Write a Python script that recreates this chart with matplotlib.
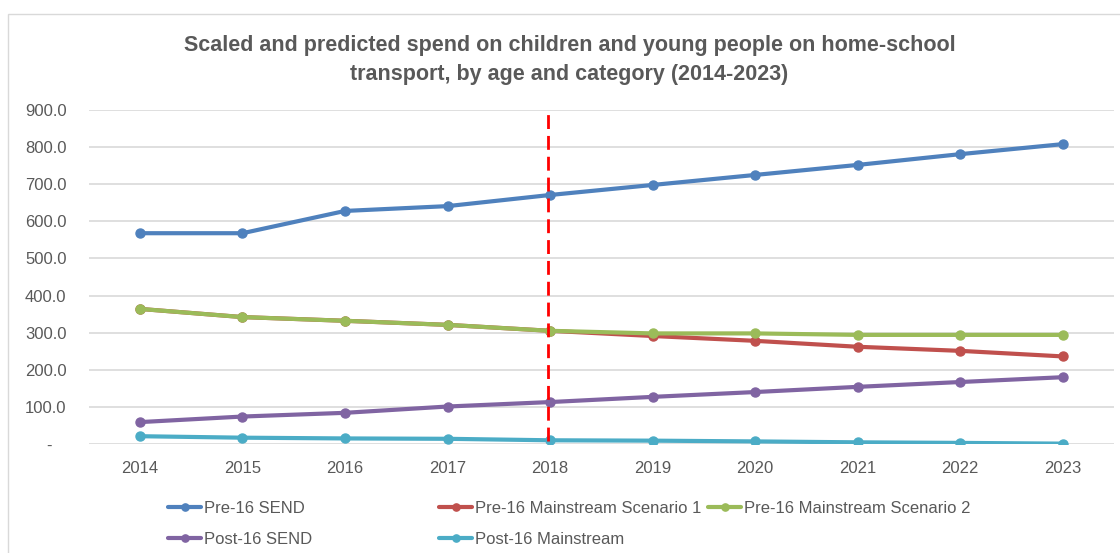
import matplotlib
matplotlib.use("Agg")
import matplotlib.pyplot as plt
from matplotlib.patches import Rectangle

years = [2014, 2015, 2016, 2017, 2018, 2019, 2020, 2021, 2022, 2023]
pre16_send = [568, 568, 628, 641, 671, 698, 725, 752, 781, 808]
pre16_main_s1 = [364, 342, 332, 321, 305, 291, 278, 262, 251, 236]
pre16_main_s2 = [364, 342, 332, 321, 305, 298, 298, 294, 294, 294]
post16_send = [59, 74, 84, 101, 113, 127, 140, 154, 167, 180]
post16_main = [21, 17, 15, 14, 10, 9, 7, 4.5, 3, 1]
forecast_start = 2018

series = [
    ("Pre-16 SEND", pre16_send, "#4F81BD"),
    ("Pre-16 Mainstream Scenario 1", pre16_main_s1, "#C0504D"),
    ("Pre-16 Mainstream Scenario 2", pre16_main_s2, "#9BBB59"),
    ("Post-16 SEND", post16_send, "#8064A2"),
    ("Post-16 Mainstream", post16_main, "#4BACC6"),
]

plt.rcParams["font.family"] = ["Liberation Sans", "DejaVu Sans"]
grey = "#595959"

fig = plt.figure(figsize=(11.2, 5.53), dpi=100)
# chart border like the excel chart area
fig.patches.append(Rectangle((8 / 1120, -0.1), 1.2, 1 - 14 / 553 + 0.1,
                             transform=fig.transFigure, fill=False,
                             edgecolor="#D9D9D9", lw=1))

ax = fig.add_axes([88.7 / 1120, 1 - 444 / 553, (1114 - 88.7) / 1120, 334 / 553])

handles = []
for name, vals, col in series:
    h, = ax.plot(years, vals, color=col, lw=3, marker="o", ms=6.5,
                 solid_capstyle="round", label=name)
    handles.append(h)

ax.axvline(forecast_start - 0.02, ymin=0.01, ymax=0.99, color="#FF0000",
           lw=2, ls=(0, (5, 2.5)))

ax.set_xlim(2013.5, 2023.5)
ax.set_ylim(0, 900)
ax.set_xticks(years)
ax.set_yticks(range(0, 901, 100))
ax.set_yticklabels(["-   "] + ["%.1f" % v for v in range(100, 901, 100)])
ax.tick_params(axis="y", length=0, pad=16, labelsize=12, labelcolor=grey)
ax.tick_params(axis="x", length=0, pad=12, labelsize=12, labelcolor=grey)
ax.grid(axis="y", color="#D9D9D9", lw=1.2)
ax.set_axisbelow(True)
for s in ax.spines.values():
    s.set_visible(False)

fig.text(0.5085, 1 - 60 / 553,
         "Scaled and predicted spend on children and young people on home-school\n"
         "transport, by age and category (2014-2023)",
         ha="center", va="center", fontsize=15.5, fontweight="bold",
         color=grey, linespacing=1.5)

# legend split in columns like the excel layout
def leg(hs, x, y):
    lg = fig.legend(handles=hs, loc="upper left", bbox_to_anchor=(x / 1120, 1 - y / 553),
                    frameon=False, fontsize=12, labelcolor=grey, borderpad=0,
                    borderaxespad=0, handlelength=2.0, handletextpad=0.15,
                    labelspacing=0.95, markerscale=0.8)
    return lg

leg([handles[0], handles[3]], 168, 501)
leg([handles[1], handles[4]], 439, 501)
leg([handles[2]], 708, 501)

fig.savefig("out.png", dpi=100)
